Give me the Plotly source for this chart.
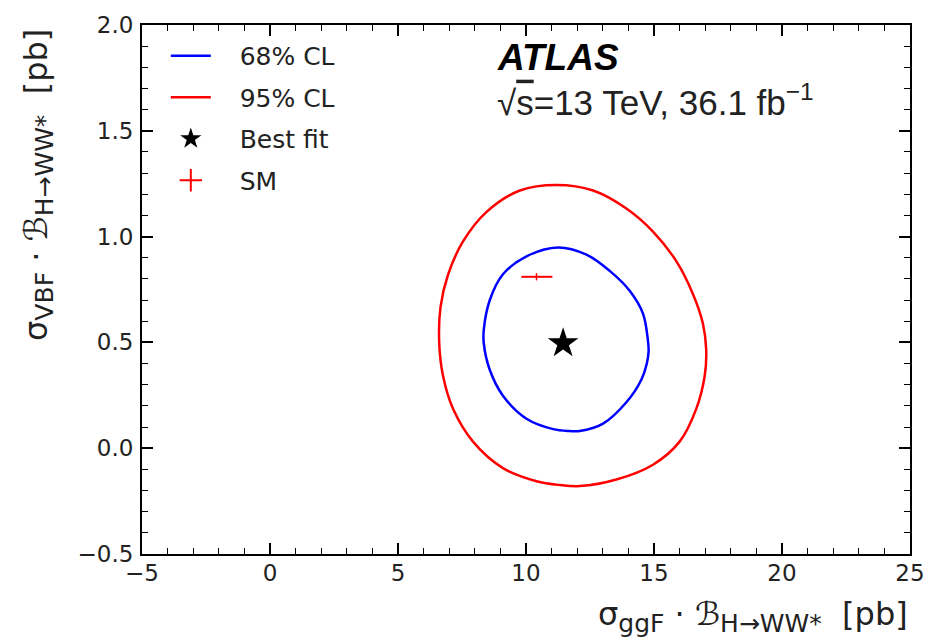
import plotly.graph_objects as go

# 68% CL contour (ggF, VBF) in pb
cl68_ggf = [11.25, 12.36, 13.27, 14.05, 14.57, 14.76, 14.79, 14.72, 14.51, 13.92, 13.01,
            12.10, 11.71, 11.06, 10.02, 9.10, 8.58, 8.35, 8.35, 8.58, 9.10, 10.02]
cl68_vbf = [0.949, 0.915, 0.838, 0.744, 0.636, 0.512, 0.460, 0.400, 0.325, 0.217, 0.116,
            0.081, 0.081, 0.090, 0.139, 0.248, 0.372, 0.496, 0.558, 0.698, 0.822, 0.907]

# 95% CL contour (ggF, VBF) in pb
cl95_ggf = [11.19, 12.62, 13.92, 14.96, 15.87, 16.52, 16.91, 17.04, 16.98, 16.65, 16.00,
            14.96, 13.53, 12.10, 11.32, 10.41, 9.10, 7.93, 7.15, 6.76, 6.61, 6.66, 6.96,
            7.54, 8.46, 9.76]
cl95_vbf = [1.244, 1.218, 1.133, 1.024, 0.884, 0.729, 0.589, 0.465, 0.341, 0.186, 0.031,
            -0.078, -0.148, -0.179, -0.174, -0.156, -0.094, 0.031, 0.186, 0.341, 0.496,
            0.667, 0.822, 0.977, 1.117, 1.218]

best_fit_ggf = [11.45]
best_fit_vbf = [0.496]

sm_ggf = [10.41]
sm_vbf = [0.810]
sm_ggf_err_up = [0.62]
sm_ggf_err_down = [0.59]
sm_vbf_err = [0.017]

x_ticks = [-5, 0, 5, 10, 15, 20, 25]
y_ticks = [-0.5, 0.0, 0.5, 1.0, 1.5, 2.0]

PAD = "\u00a0\u00a0\u00a0"  # gap between legend symbol and label


def closed(v):
    return list(v) + [v[0]]


fig = go.Figure()

fig.add_trace(go.Scatter(
    x=closed(cl68_ggf), y=closed(cl68_vbf), mode="lines",
    line=dict(color="#0000ff", width=2.5, shape="spline", smoothing=1.0),
    name=PAD + "68% CL", legendgroup="a"))
fig.add_trace(go.Scatter(
    x=closed(cl95_ggf), y=closed(cl95_vbf), mode="lines",
    line=dict(color="#ff0000", width=2.5, shape="spline", smoothing=1.0),
    name=PAD + "95% CL", legendgroup="b"))
fig.add_trace(go.Scatter(
    x=best_fit_ggf, y=best_fit_vbf, mode="markers",
    marker=dict(symbol="star", size=23, color="black"),
    name=PAD + "Best fit", legendgroup="c"))
# SM point drawn as error bars only
fig.add_trace(go.Scatter(
    x=sm_ggf, y=sm_vbf, mode="markers",
    marker=dict(size=1, color="rgba(0,0,0,0)"),
    error_x=dict(type="data", array=sm_ggf_err_up, arrayminus=sm_ggf_err_down,
                 symmetric=False, color="#ff0000", thickness=2, width=0),
    error_y=dict(type="data", array=sm_vbf_err, color="#ff0000", thickness=1.5, width=0),
    showlegend=False))
fig.add_trace(go.Scatter(
    x=[None], y=[None], mode="markers",
    marker=dict(symbol="cross-thin", size=16, color="#ff0000",
                line=dict(color="#ff0000", width=2)),
    name=PAD + "SM", legendgroup="d"))

axis_common = dict(
    showgrid=False, zeroline=False, showline=True, linewidth=2, linecolor="black",
    mirror="allticks", ticks="inside", ticklen=11, tickwidth=1.5, tickcolor="black",
    tickfont=dict(family="DejaVu Sans", size=23, color="#222"),
)

fig.update_xaxes(
    range=[-5, 25], tickvals=x_ticks, ticklabelstandoff=-3,
    minor=dict(dtick=1, ticks="inside", ticklen=6, tickwidth=1.2, tickcolor="black"),
    **axis_common)
fig.update_yaxes(
    range=[-0.5, 2.0], tickvals=y_ticks, tickformat=".1f", ticklabelstandoff=2,
    minor=dict(dtick=0.1, ticks="inside", ticklen=6, tickwidth=1.2, tickcolor="black"),
    **axis_common)

title_font = dict(family="DejaVu Sans", size=32, color="#222")
SUB = "<span style=\"font-size:25px\">{}</span>"

x_title = ("σ<sub>" + SUB.format("ggF") + "</sub> · ℬ<sub>" + SUB.format("H→WW*")
           + "</sub>  [pb]")
y_title = ("σ<sub>" + SUB.format("VBF") + "</sub> · ℬ<sub>" + SUB.format("H→WW*")
           + "</sub>  [pb]")

fig.update_layout(
    width=940, height=641,
    margin=dict(l=142, r=30, t=17, b=87),
    plot_bgcolor="white", paper_bgcolor="white",
    legend=dict(x=0.031, y=0.985, xanchor="left", yanchor="top",
                font=dict(family="DejaVu Sans", size=25, color="#222"),
                bgcolor="rgba(0,0,0,0)", tracegroupgap=6, itemwidth=40),
    annotations=[
        dict(text=x_title,
             xref="paper", yref="paper", x=1.0, y=-0.118,
             xanchor="right", yanchor="middle", showarrow=False, font=title_font),
        dict(text=y_title,
             xref="paper", yref="paper", x=-0.135, y=0.997, textangle=-90,
             xanchor="center", yanchor="top", showarrow=False, font=title_font),
        dict(text="<b><i>ATLAS</i></b>",
             xref="paper", yref="paper", x=0.460, y=0.938,
             xanchor="left", yanchor="middle", showarrow=False,
             font=dict(family="Liberation Sans", size=37, color="black")),
        dict(text="√<span style=\"text-decoration:overline\">s</span>=13 TeV, 36.1 fb<sup>−1</sup>",
             xref="paper", yref="paper", x=0.460, y=0.859,
             xanchor="left", yanchor="middle", showarrow=False,
             font=dict(family="Liberation Sans", size=35, color="#222")),
    ],
)

fig.write_html("out.html")
